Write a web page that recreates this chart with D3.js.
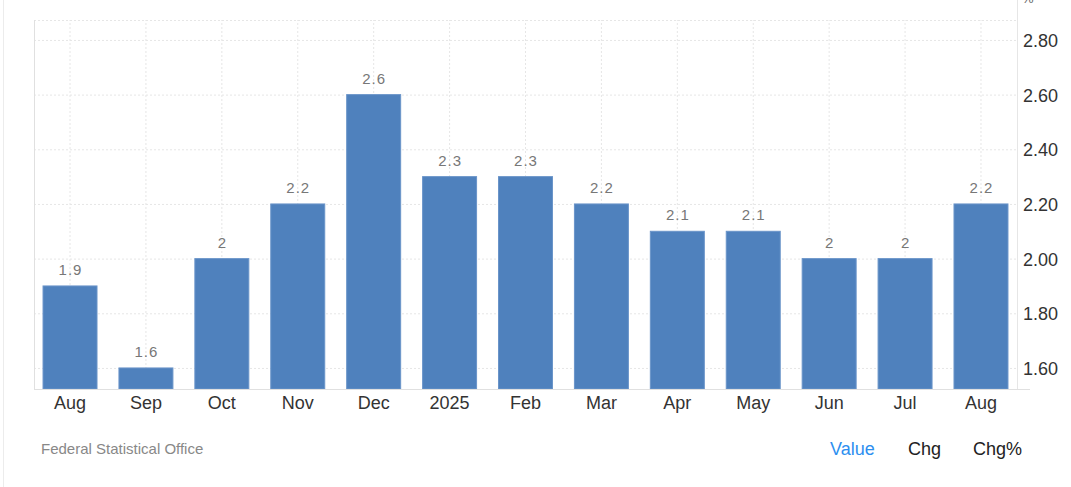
<!DOCTYPE html>
<html>
<head>
    <script src="https://d3js.org/d3.v7.min.js"></script>
    <style type="text/css">
        body { margin: 0; background: #fff; }
        svg { display: block; font-family: Arial, "Liberation Sans", sans-serif; }
        .grid line { stroke: #e6e6e6; stroke-dasharray: 2,2; }
        .grid path { display: none; }
        .val { fill: #777; font-size: 15px; letter-spacing: 1px; }
    </style>
</head>
<body>
    <svg class="chart" width="1071" height="487"></svg>

    <script type="text/javascript">
    var months = ["Aug", "Sep", "Oct", "Nov", "Dec", "2025", "Feb", "Mar", "Apr", "May", "Jun", "Jul", "Aug"];
    var values = [1.9, 1.6, 2, 2.2, 2.6, 2.3, 2.3, 2.2, 2.1, 2.1, 2, 2, 2.2];
    var yTicks = [1.6, 1.8, 2.0, 2.2, 2.4, 2.6, 2.8];
    var tabs = ["Value", "Chg", "Chg%"];

    var plotLeft = 34, plotRight = 1017, plotTop = 20, plotBottom = 389;

    var svg = d3.select(".chart");

    // page frame line on the left
    svg.append("line")
        .attr("x1", 3.5).attr("x2", 3.5).attr("y1", 0).attr("y2", 487)
        .attr("stroke", "#ececec");

    var x = d3.scaleBand()
        .domain(d3.range(months.length))
        .range([plotLeft, plotRight])
        .paddingInner(0.289)
        .paddingOuter(0.119);

    var y = d3.scaleLinear()
        .domain([1.523, 2.873])
        .range([plotBottom, plotTop]);

    // horizontal grid
    svg.append("g")
        .attr("class", "grid")
        .attr("transform", "translate(" + plotLeft + ",0)")
        .call(d3.axisLeft(y).tickValues(yTicks.concat([2.873])).tickSize(-(plotRight - plotLeft)).tickFormat(""));

    // vertical grid at bar centres
    svg.append("g")
        .attr("class", "grid")
        .attr("transform", "translate(0," + plotBottom + ")")
        .call(d3.axisBottom(x).tickSize(-(plotBottom - plotTop)).tickFormat(""));

    // left border
    svg.append("line")
        .attr("x1", plotLeft + 0.5).attr("x2", plotLeft + 0.5).attr("y1", plotTop).attr("y2", plotBottom)
        .attr("stroke", "#e0e0e0");

    svg.selectAll(".bar")
        .data(values)
        .enter()
        .append("rect")
        .attr("class", "bar")
        .attr("x", function (d, i) { return x(i); })
        .attr("width", x.bandwidth())
        .attr("y", function (d) { return y(d); })
        .attr("height", function (d) { return plotBottom - y(d); })
        .attr("fill", "#4f81bd")
        .attr("stroke", "#6a94c9")
        .attr("stroke-width", 1);

    svg.selectAll(".val")
        .data(values)
        .enter()
        .append("text")
        .attr("class", "val")
        .attr("text-anchor", "middle")
        .attr("x", function (d, i) { return x(i) + x.bandwidth() / 2 + 0.5; })
        .attr("y", function (d) { return y(d) - 11; })
        .text(function (d) { return d; });

    // axes lines
    svg.append("line")
        .attr("x1", plotLeft).attr("x2", 1030).attr("y1", plotBottom + 0.5).attr("y2", plotBottom + 0.5)
        .attr("stroke", "#e0e0e0");
    svg.append("line")
        .attr("x1", plotRight + 0.5).attr("x2", plotRight + 0.5).attr("y1", 0).attr("y2", plotBottom)
        .attr("stroke", "#e6e6e6");

    // y labels on the right
    svg.selectAll(".ylab")
        .data(yTicks)
        .enter()
        .append("text")
        .attr("x", 1023)
        .attr("y", function (d) { return y(d) + 7; })
        .attr("fill", "#333")
        .style("font-size", "18px")
        .text(function (d) { return d.toFixed(2); });

    svg.append("text")
        .attr("x", 1022).attr("y", 3)
        .attr("fill", "#666")
        .style("font-size", "13px")
        .text("%");

    // x labels
    svg.selectAll(".xlab")
        .data(months)
        .enter()
        .append("text")
        .attr("text-anchor", "middle")
        .attr("x", function (d, i) { return x(i) + x.bandwidth() / 2; })
        .attr("y", 409)
        .attr("fill", "#333")
        .style("font-size", "18px")
        .text(function (d) { return d; });

    svg.append("text")
        .attr("x", 41).attr("y", 454)
        .attr("fill", "#888")
        .style("font-size", "15px")
        .text("Federal Statistical Office");

    var tabX = [830, 908, 973];
    svg.selectAll(".tab")
        .data(tabs)
        .enter()
        .append("text")
        .attr("x", function (d, i) { return tabX[i]; })
        .attr("y", 455)
        .attr("fill", function (d, i) { return i === 0 ? "#2d8ff0" : "#222"; })
        .style("font-size", "18px")
        .text(function (d) { return d; });
    </script>
</body>
</html>
